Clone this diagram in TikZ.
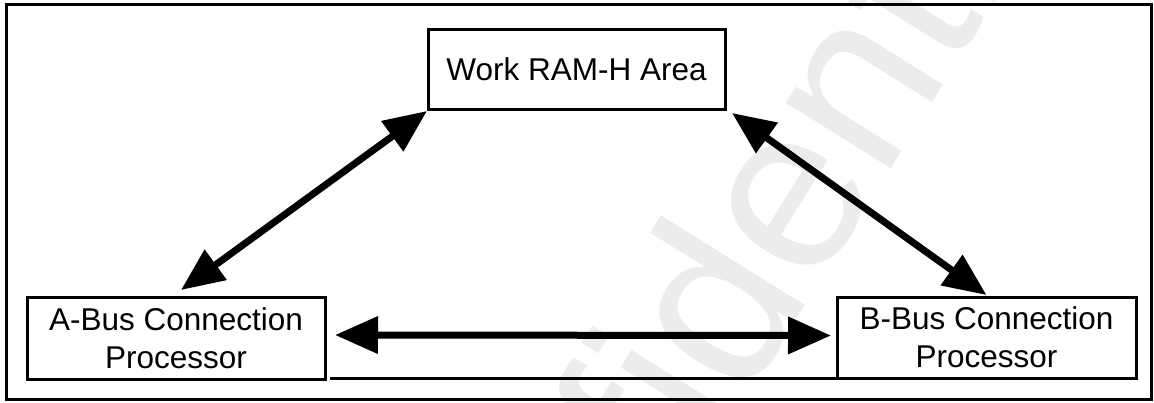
\documentclass[tikz,border=0pt]{standalone}
\usepackage{fontspec}
\setmainfont{Liberation Sans}
\usetikzlibrary{arrows.meta,calc}
\begin{document}
\begin{tikzpicture}[x=1pt,y=-1pt,
  box/.style={draw, line width=3pt, inner sep=0pt, outer sep=0pt, align=center,
    font=\fontsize{31.5}{38}\selectfont},
  link/.style={line width=7pt,
    {Triangle[length=43pt,width=36pt]}-{Triangle[length=43pt,width=36pt]}},
  stamp/.style={anchor=base, rotate=58, text=gray!15, inner sep=0pt,
    font=\fontsize{234}{234}\selectfont},
]
\useasboundingbox (0,0) rectangle (1154,402);

% background stamp, kept inside the page
\begin{scope}
  \clip (0,0) rectangle (1154,402);
  \node[stamp] (wm) at (783,342) {Confidential};
\end{scope}

% outer frame
\draw[line width=3pt] (6.5,4.5) rectangle (1151.5,399);

% blocks
\node[box, minimum width=297pt, minimum height=80pt] (ram) at (576.5,69) {Work RAM-H Area};
\node[box, minimum width=298pt, minimum height=82pt] (abus) at (176,338) {A-Bus Connection\\Processor};
\node[box, minimum width=299pt, minimum height=81pt] (bbus) at (986.5,337.5) {B-Bus Connection\\Processor};

% connections
\draw[link] ([shift={(5,-7)}]abus.north) -- ([shift={(-1,2)}]ram.south west);
\draw[link] ([shift={(7,4)}]ram.south east) -- ([shift={(0,-2)}]bbus.north);
\draw[link] ([shift={(10,-3)}]abus.east) -- ([shift={(-6,-2)}]bbus.west);
\draw[line width=3pt] ([shift={(5,-1)}]abus.south east) -- (bbus.south west);
\end{tikzpicture}
\end{document}
